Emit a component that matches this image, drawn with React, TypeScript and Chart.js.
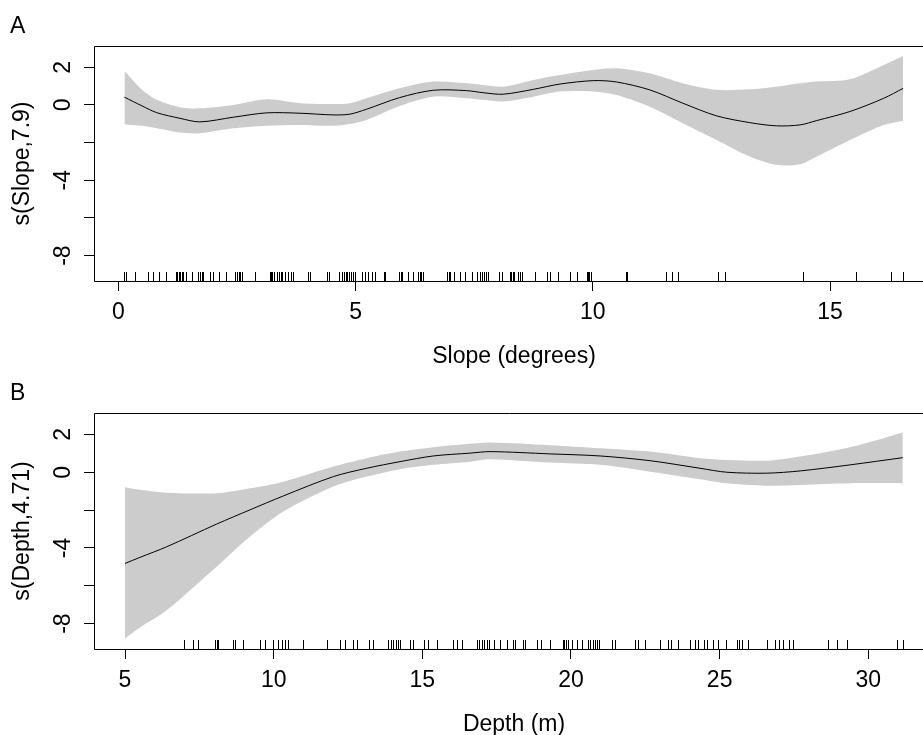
import React, { useEffect, useRef } from "react";
import { Chart, registerables } from "chart.js";

Chart.register(...registerables);

// ---------- Panel A: Slope ----------
const slopeX = [0.13, 0.5, 0.81, 1.3, 1.72, 2.43, 3.13, 3.83, 4.53, 4.88, 5.23, 5.93, 6.64, 7.34, 7.69, 8.11, 8.75, 9.31, 10.01, 10.5, 11.2, 11.9, 12.61, 13.31, 13.87, 14.37, 14.72, 15.42, 16.13, 16.54];
const slopeFit = [0.41, -0.05, -0.41, -0.71, -0.9, -0.65, -0.42, -0.44, -0.53, -0.49, -0.23, 0.39, 0.78, 0.76, 0.65, 0.57, 0.83, 1.11, 1.29, 1.22, 0.8, 0.09, -0.58, -0.94, -1.11, -1.06, -0.83, -0.35, 0.35, 0.88];
const slopeUpper = [1.8, 0.8, 0.27, -0.12, -0.18, 0.0, 0.3, 0.09, 0.05, 0.09, 0.35, 0.88, 1.24, 1.15, 1.06, 0.97, 1.33, 1.59, 1.86, 1.95, 1.68, 1.15, 0.8, 0.83, 0.97, 1.15, 1.24, 1.36, 2.12, 2.6];
const slopeLower = [-1.02, -1.11, -1.24, -1.47, -1.5, -1.24, -1.1, -1.06, -1.1, -1.01, -0.8, -0.05, 0.44, 0.35, 0.27, 0.18, 0.44, 0.71, 0.71, 0.53, -0.09, -0.97, -1.86, -2.74, -3.18, -3.15, -2.74, -1.86, -1.06, -0.85];
const slopeRug = [0.13, 0.16, 0.35, 0.62, 0.74, 0.86, 1.0, 1.21, 1.24, 1.27, 1.3, 1.34, 1.37, 1.43, 1.55, 1.67, 1.69, 1.72, 1.76, 1.79, 1.93, 2.0, 2.13, 2.27, 2.46, 2.5, 2.54, 2.56, 2.6, 2.88, 3.2, 3.22, 3.25, 3.28, 3.34, 3.38, 3.42, 3.46, 3.51, 3.58, 3.63, 3.68, 4.0, 4.05, 4.39, 4.45, 4.66, 4.71, 4.76, 4.8, 4.83, 4.87, 4.9, 4.94, 4.99, 5.13, 5.2, 5.27, 5.34, 5.41, 5.59, 5.63, 5.92, 5.95, 5.98, 6.11, 6.22, 6.32, 6.36, 6.39, 6.43, 6.92, 6.96, 6.99, 7.08, 7.2, 7.31, 7.45, 7.55, 7.62, 7.66, 7.71, 7.76, 7.8, 8.02, 8.08, 8.26, 8.28, 8.31, 8.34, 8.42, 8.47, 8.5, 8.78, 9.03, 9.1, 9.27, 9.52, 9.66, 9.87, 9.9, 9.93, 9.96, 10.7, 10.73, 11.54, 11.68, 11.8, 12.63, 12.79, 14.44, 15.55, 16.28, 16.54];
const slopeTicks = [0, 5, 10, 15];

// ---------- Panel B: Depth ----------
const depthX = [5.0, 5.5, 6.4, 8.08, 9.2, 10.33, 12.01, 13.13, 14.25, 15.37, 16.61, 17.28, 19.29, 20.98, 22.66, 24.34, 25.24, 26.58, 27.71, 29.39, 31.16];
const depthFit = [-4.82, -4.5, -3.94, -2.74, -1.99, -1.25, -0.23, 0.21, 0.56, 0.86, 1.01, 1.09, 0.97, 0.86, 0.61, 0.21, 0.0, -0.05, 0.07, 0.39, 0.77];
const depthUpper = [-0.79, -0.93, -1.08, -1.11, -0.85, -0.5, 0.3, 0.74, 1.09, 1.32, 1.5, 1.57, 1.43, 1.27, 1.09, 0.74, 0.65, 0.61, 0.83, 1.32, 2.1];
const depthLower = [-8.78, -8.2, -7.29, -4.99, -3.41, -2.08, -0.76, -0.23, 0.16, 0.39, 0.56, 0.69, 0.51, 0.39, 0.03, -0.37, -0.58, -0.71, -0.67, -0.58, -0.58];
const depthRug = [6.99, 7.3, 7.47, 8.03, 8.08, 8.14, 8.62, 8.7, 8.98, 9.54, 9.71, 9.99, 10.14, 10.27, 10.38, 10.49, 11.0, 11.78, 12.23, 12.4, 12.68, 12.79, 13.21, 13.35, 13.86, 13.95, 14.03, 14.12, 14.19, 14.25, 14.59, 14.68, 15.07, 15.2, 15.48, 16.02, 16.16, 16.32, 16.83, 16.92, 17.0, 17.09, 17.17, 17.25, 17.41, 17.61, 17.84, 18.06, 18.12, 18.4, 18.45, 18.87, 18.98, 19.3, 19.72, 19.78, 19.83, 19.89, 20.02, 20.19, 20.36, 20.58, 20.64, 20.73, 20.81, 20.89, 20.95, 21.37, 21.48, 22.15, 22.25, 22.49, 22.99, 23.27, 23.35, 23.61, 24.0, 24.17, 24.28, 24.48, 24.57, 24.79, 24.96, 25.22, 25.58, 25.65, 25.74, 25.97, 26.58, 26.86, 26.98, 27.14, 27.34, 27.46, 28.66, 28.94, 29.27, 30.96, 31.18];
const depthTicks = [5, 10, 15, 20, 25, 30];

// ---------- shared y axis ----------
const yTicks = [2, 0, -2, -4, -6, -8];
const yTickLabels = [2, 0, -4, -8];

const FONT = '23px "Liberation Sans", Arial, Helvetica, sans-serif';

interface PanelSpec {
  letter: string;
  xTitle: string;
  yTitle: string;
  xs: number[];
  fit: number[];
  upper: number[];
  lower: number[];
  rug: number[];
  xTicks: number[];
  xMin: number;
  xMax: number;
  yMin: number;
  yMax: number;
  padTop: number;
  plotBottom: number;
  letterBaseline: number;
}

const panelA: PanelSpec = {
  letter: "A",
  xTitle: "Slope (degrees)",
  yTitle: "s(Slope,7.9)",
  xs: slopeX,
  fit: slopeFit,
  upper: slopeUpper,
  lower: slopeLower,
  rug: slopeRug,
  xTicks: slopeTicks,
  xMin: -0.512,
  xMax: 16.96,
  yMin: -9.35,
  yMax: 3.13,
  padTop: 46,
  plotBottom: 281,
  letterBaseline: 33,
};

const panelB: PanelSpec = {
  letter: "B",
  xTitle: "Depth (m)",
  yTitle: "s(Depth,4.71)",
  xs: depthX,
  fit: depthFit,
  upper: depthUpper,
  lower: depthLower,
  rug: depthRug,
  xTicks: depthTicks,
  xMin: 3.957,
  xMax: 31.84,
  yMin: -9.34,
  yMax: 3.13,
  padTop: 43,
  plotBottom: 279,
  letterBaseline: 30,
};

function pts(xs: number[], ys: number[]) {
  return xs.map((x, i) => ({ x, y: ys[i] }));
}

const TENSION = 0.3;

function buildConfig(p: PanelSpec, canvasH: number): any {
  const decor = {
    id: "rDecor",
    afterDraw(chart: any) {
      const { ctx, chartArea: ca, scales } = chart;
      const xs = scales.x;
      const ys = scales.y;
      ctx.save();
      ctx.strokeStyle = "#000";
      ctx.lineWidth = 1;
      const L = Math.floor(ca.left) + 0.5;
      const T = Math.floor(ca.top) + 0.5;
      const B = Math.floor(ca.bottom) + 0.5;
      const R = chart.width + 5;
      ctx.beginPath();
      ctx.moveTo(R, T);
      ctx.lineTo(L, T);
      ctx.lineTo(L, B);
      ctx.lineTo(R, B);
      ctx.stroke();
      // rug
      ctx.beginPath();
      for (const v of p.rug) {
        const x = Math.round(xs.getPixelForValue(v)) + 0.5;
        ctx.moveTo(x, B - 9.5);
        ctx.lineTo(x, B);
      }
      ctx.stroke();
      // texts
      ctx.fillStyle = "#000";
      ctx.font = FONT;
      ctx.textBaseline = "alphabetic";
      ctx.textAlign = "center";
      for (const v of p.xTicks) {
        ctx.fillText(String(v), xs.getPixelForValue(v), ca.bottom + 38);
      }
      ctx.fillText(p.xTitle, 514, ca.bottom + 82);
      for (const v of yTickLabels) {
        ctx.save();
        ctx.translate(70, ys.getPixelForValue(v));
        ctx.rotate(-Math.PI / 2);
        ctx.fillText(String(v), 0, 0);
        ctx.restore();
      }
      ctx.save();
      ctx.translate(29, (ca.top + ca.bottom) / 2);
      ctx.rotate(-Math.PI / 2);
      ctx.fillText(p.yTitle, 0, 0);
      ctx.restore();
      ctx.textAlign = "left";
      ctx.fillText(p.letter, 10, p.letterBaseline);
      ctx.restore();
    },
  };

  return {
    type: "line",
    data: {
      datasets: [
        {
          label: "fit",
          data: pts(p.xs, p.fit),
          borderColor: "#000",
          borderWidth: 1,
          pointRadius: 0,
          fill: false,
          tension: TENSION,
        },
        {
          label: "upper",
          data: pts(p.xs, p.upper),
          borderColor: "rgba(0,0,0,0)",
          borderWidth: 0,
          pointRadius: 0,
          backgroundColor: "#cccccc",
          fill: "+1",
          tension: TENSION,
        },
        {
          label: "lower",
          data: pts(p.xs, p.lower),
          borderColor: "rgba(0,0,0,0)",
          borderWidth: 0,
          pointRadius: 0,
          fill: false,
          tension: TENSION,
        },
      ],
    },
    options: {
      animation: false,
      responsive: false,
      maintainAspectRatio: false,
      devicePixelRatio: 1,
      events: [],
      layout: { padding: { top: p.padTop, left: 0, right: 0, bottom: 0 } },
      plugins: { legend: { display: false }, tooltip: { enabled: false } },
      scales: {
        x: {
          type: "linear",
          min: p.xMin,
          max: p.xMax,
          afterBuildTicks: (s: any) => {
            s.ticks = p.xTicks.map((v) => ({ value: v }));
          },
          afterFit: (s: any) => {
            s.height = canvasH - p.plotBottom;
          },
          grid: { display: true, drawOnChartArea: false, drawTicks: true, tickLength: 10, color: "#000", lineWidth: 1 },
          border: { display: false },
          ticks: { display: false },
        },
        y: {
          type: "linear",
          min: p.yMin,
          max: p.yMax,
          afterBuildTicks: (s: any) => {
            s.ticks = yTicks.map((v) => ({ value: v }));
          },
          afterFit: (s: any) => {
            s.width = 94;
          },
          grid: { display: true, drawOnChartArea: false, drawTicks: true, tickLength: 10, color: "#000", lineWidth: 1 },
          border: { display: false },
          ticks: { display: false },
        },
      },
    },
    plugins: [decor],
  };
}

function Panel({ spec, top, height }: { spec: PanelSpec; top: number; height: number }) {
  const ref = useRef<HTMLCanvasElement>(null);
  useEffect(() => {
    const chart = new Chart(ref.current as HTMLCanvasElement, buildConfig(spec, height));
    return () => chart.destroy();
  }, []);
  return (
    <canvas
      ref={ref}
      width={923}
      height={height}
      style={{ position: "absolute", left: 0, top, width: 923, height, display: "block" }}
    />
  );
}

export default function App() {
  return (
    <div
      style={{
        position: "fixed",
        left: 0,
        top: 0,
        width: 923,
        height: 735,
        overflow: "hidden",
        background: "#fff",
      }}
    >
      <Panel spec={panelA} top={0} height={370} />
      <Panel spec={panelB} top={370} height={365} />
    </div>
  );
}
